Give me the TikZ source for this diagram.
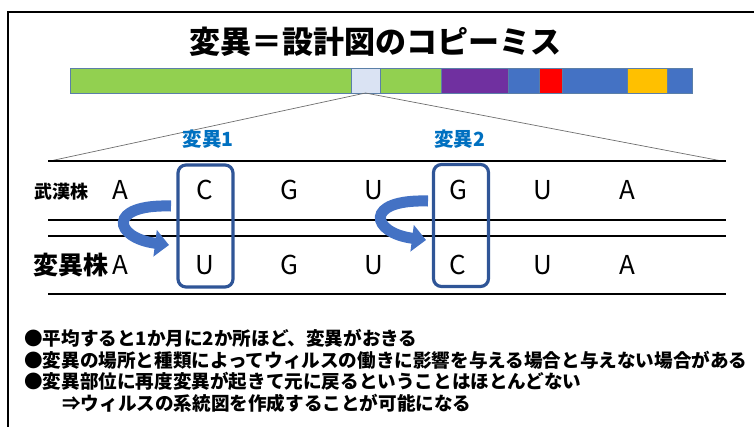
\documentclass[tikz,border=0pt]{standalone}
\usepackage{fontspec}
\setmainfont{Noto Sans CJK JP}
\definecolor{mtGreen}{HTML}{92D050}
\definecolor{mtPale}{HTML}{DAE3F3}
\definecolor{mtPurple}{HTML}{7030A0}
\definecolor{mtBlue}{HTML}{4472C4}
\definecolor{mtRed}{HTML}{FF0000}
\definecolor{mtGold}{HTML}{FFC000}
\definecolor{mtEdge}{HTML}{5B7FA8}
\definecolor{mtNavy}{HTML}{2F5597}
\definecolor{mtLabel}{HTML}{0070C0}
\definecolor{mtGrey}{HTML}{6E6E6E}
\usetikzlibrary{arrows.meta}

\tikzset{
  base/.style={font=\fontsize{26}{30}\selectfont, inner sep=0pt},
  rule/.style={line width=2pt},
  mutbox/.style={draw=mtNavy, line width=3.2pt, rounded corners=8pt, minimum width=55pt, minimum height=122pt},
  turn/.style={line width=11pt, mtBlue, -{Triangle[length=14pt,width=26pt]}},
  note/.style={anchor=west, font=\fontsize{18.6}{21}\selectfont\bfseries, inner sep=0pt}
}

\begin{document}
\begin{tikzpicture}[x=1pt,y=-1pt]
  \useasboundingbox (0,0) rectangle (754,426);
  % Slide frame
  \draw[line width=1.5pt] (8,440) -- (8,12) -- (770,12);

  % -- Title --
  \node[font=\fontsize{31}{36}\selectfont\bfseries] (title) at (375,42) {変異＝設計図のコピーミス};

  % -- Genome bar --
  \foreach \a/\b/\c in {70/351/mtGreen, 351/380/mtPale, 380/441.5/mtGreen, 441.5/508/mtPurple,
                        508/539/mtBlue, 539/562/mtRed, 562/627.5/mtBlue, 627.5/667/mtGold, 667/692.5/mtBlue}
    \filldraw[fill=\c, draw=mtEdge, line width=0.6pt] (\a,68) rectangle (\b,93);
  \coordinate (zoomtop) at (365.5,93);
  \coordinate (zoomleft) at (50,161);
  \coordinate (zoomright) at (722,161);
  \draw[mtGrey, line width=0.7pt] (zoomleft) -- (zoomtop) -- (zoomright);

  % -- Sequence rules --
  \foreach \y in {161,220,236,294}
    \draw[rule] (48,\y) -- (726,\y);

  % -- Strain labels --
  \node[font=\fontsize{18}{20}\selectfont\bfseries, inner sep=0pt] (wuhan) at (61,192) {武漢株};
  \node[font=\fontsize{25}{28}\selectfont\bfseries, inner sep=0pt] (mutant) at (70.5,265) {変異株};

  % -- Bases --
  \foreach \b [count=\i from 0] in {A,C,G,U,G,U,A}
    \node[base] (w\i) at (120+84.5*\i,190) {\b};
  \foreach \b [count=\i from 0] in {A,U,G,U,C,U,A}
    \node[base] (m\i) at (120+84.5*\i,265) {\b};

  % -- Mutation boxes --
  \node[mutbox] (box1) at (205.5,226) {};
  \node[mutbox] (box2) at (461,225.5) {};
  \node[font=\fontsize{19.5}{22}\selectfont\bfseries, text=mtLabel] (lab1) at (208,139) {変異1};
  \node[font=\fontsize{19.5}{22}\selectfont\bfseries, text=mtLabel] (lab2) at (459.5,139) {変異2};

  % -- Turn arrows --
  \coordinate (t1s) at (171,206);
  \coordinate (t1e) at (169,245);
  \draw[turn] (t1s) .. controls (106,204) and (114,238) .. (t1e);
  \coordinate (t2s) at (428,201);
  \coordinate (t2e) at (426,240);
  \draw[turn] (t2s) .. controls (363,199) and (371,233) .. (t2e);

  % -- Notes --
  \node[note] (n1) at (24,338) {●平均すると1か月に2か所ほど、変異がおきる};
  \node[note] (n2) at (24,360) {●変異の場所と種類によってウィルスの働きに影響を与える場合と与えない場合がある};
  \node[note] (n3) at (24,381) {●変異部位に再度変異が起きて元に戻るということはほとんどない};
  \node[note] (n4) at (62,403) {⇒ウィルスの系統図を作成することが可能になる};
\end{tikzpicture}
\end{document}
